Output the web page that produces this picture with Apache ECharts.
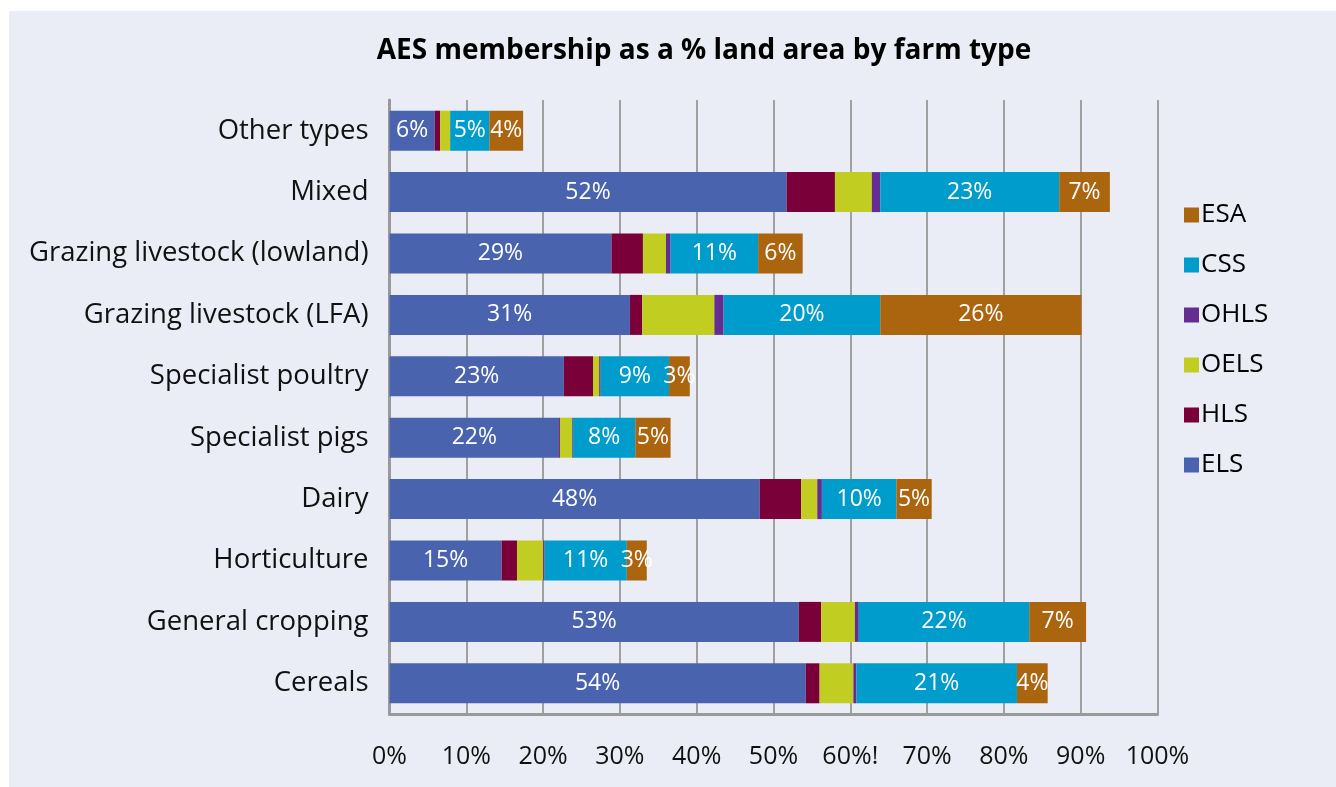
<!DOCTYPE html>
<html>
<head>
<meta charset="utf-8">
<title>AES membership</title>
<script src="https://cdn.jsdelivr.net/npm/echarts@6/dist/echarts.min.js"></script>
<style>
  html, body { margin: 0; padding: 0; background: #ffffff; }
  #chart { width: 1336px; height: 787px; }
</style>
</head>
<body>
<div id="chart"></div>
<script>
// farm types, top to bottom
var farmTypes = ["Other types", "Mixed", "Grazing livestock (lowland)", "Grazing livestock (LFA)",
  "Specialist poultry", "Specialist pigs", "Dairy", "Horticulture", "General cropping", "Cereals"];

// % of land area per scheme
var els  = [5.9, 51.7, 28.9, 31.3, 22.7, 22.1, 48.2, 14.6, 53.3, 54.2];
var hls  = [0.7, 6.3, 4.1, 1.6, 3.8, 0.1, 5.4, 2.0, 2.9, 1.8];
var oels = [1.3, 4.8, 3.0, 9.4, 0.8, 1.6, 2.1, 3.4, 4.4, 4.4];
var ohls = [0.0, 1.1, 0.6, 1.2, 0.2, 0.1, 0.6, 0.2, 0.5, 0.4];
var css  = [5.1, 23.3, 11.4, 20.4, 8.9, 8.1, 9.7, 10.7, 22.2, 20.9];
var esa  = [4.4, 6.6, 5.8, 26.2, 2.7, 4.6, 4.6, 2.6, 7.4, 4.0];

var xTickLabels = ["0%", "10%", "20%", "30%", "40%", "50%", "60%!", "70%", "80%", "90%", "100%"];

var fontFam = "'Open Sans', 'Noto Sans', sans-serif";

function makeSeries(name, values, color, showLabel) {
  return {
    name: name,
    type: "bar",
    stack: "total",
    barWidth: 40,
    data: values,
    itemStyle: { color: color },
    label: {
      show: showLabel,
      position: "inside",
      color: "#ffffff",
      fontFamily: fontFam,
      fontSize: 23,
      formatter: function (p) { return Math.round(p.value) + "%"; }
    }
  };
}

var chart = echarts.init(document.getElementById("chart"));
var option = {
  backgroundColor: "#ffffff",
  animation: false,
  graphic: [{
    type: "rect",
    z: -10,
    shape: { x: 9, y: 11, width: 1327, height: 776 },
    style: { fill: "#eaedf5" }
  }],
  title: {
    text: "AES membership as a % land area by farm type",
    left: 699,
    textAlign: "center",
    top: 32,
    textStyle: { fontFamily: fontFam, fontWeight: "bold", fontSize: 28, color: "#000000" }
  },
  legend: {
    orient: "vertical",
    left: 1179,
    top: 197,
    itemWidth: 15,
    itemHeight: 15,
    itemGap: 24,
    icon: "rect",
    data: ["ESA", "CSS", "OHLS", "OELS", "HLS", "ELS"],
    textStyle: { fontFamily: fontFam, fontSize: 26, color: "#000000", padding: [0, 0, 0, -3] }
  },
  grid: { left: 389.5, top: 100, width: 768, height: 614 },
  xAxis: {
    type: "value",
    min: 0,
    max: 100,
    interval: 10,
    axisLine: { show: true, lineStyle: { color: "#9a9a9a", width: 3 } },
    axisTick: { show: false },
    splitLine: { show: true, lineStyle: { color: "#a0a0a0", width: 2 } },
    axisLabel: {
      margin: 30,
      fontFamily: fontFam,
      fontSize: 25,
      color: "#111111",
      formatter: function (v) { return xTickLabels[Math.round(v / 10)]; }
    }
  },
  yAxis: {
    type: "category",
    inverse: true,
    data: farmTypes,
    axisLine: { show: true, lineStyle: { color: "#9a9a9a", width: 3 } },
    axisTick: { show: false },
    axisLabel: { margin: 21, fontFamily: fontFam, fontSize: 27.5, color: "#111111" }
  },
  series: [
    makeSeries("ELS", els, "#4a63ae", true),
    makeSeries("HLS", hls, "#7a0039", false),
    makeSeries("OELS", oels, "#c2cd22", false),
    makeSeries("OHLS", ohls, "#662d91", false),
    makeSeries("CSS", css, "#009ccb", true),
    makeSeries("ESA", esa, "#ab650f", true)
  ]
};
chart.setOption(option);
</script>
</body>
</html>
